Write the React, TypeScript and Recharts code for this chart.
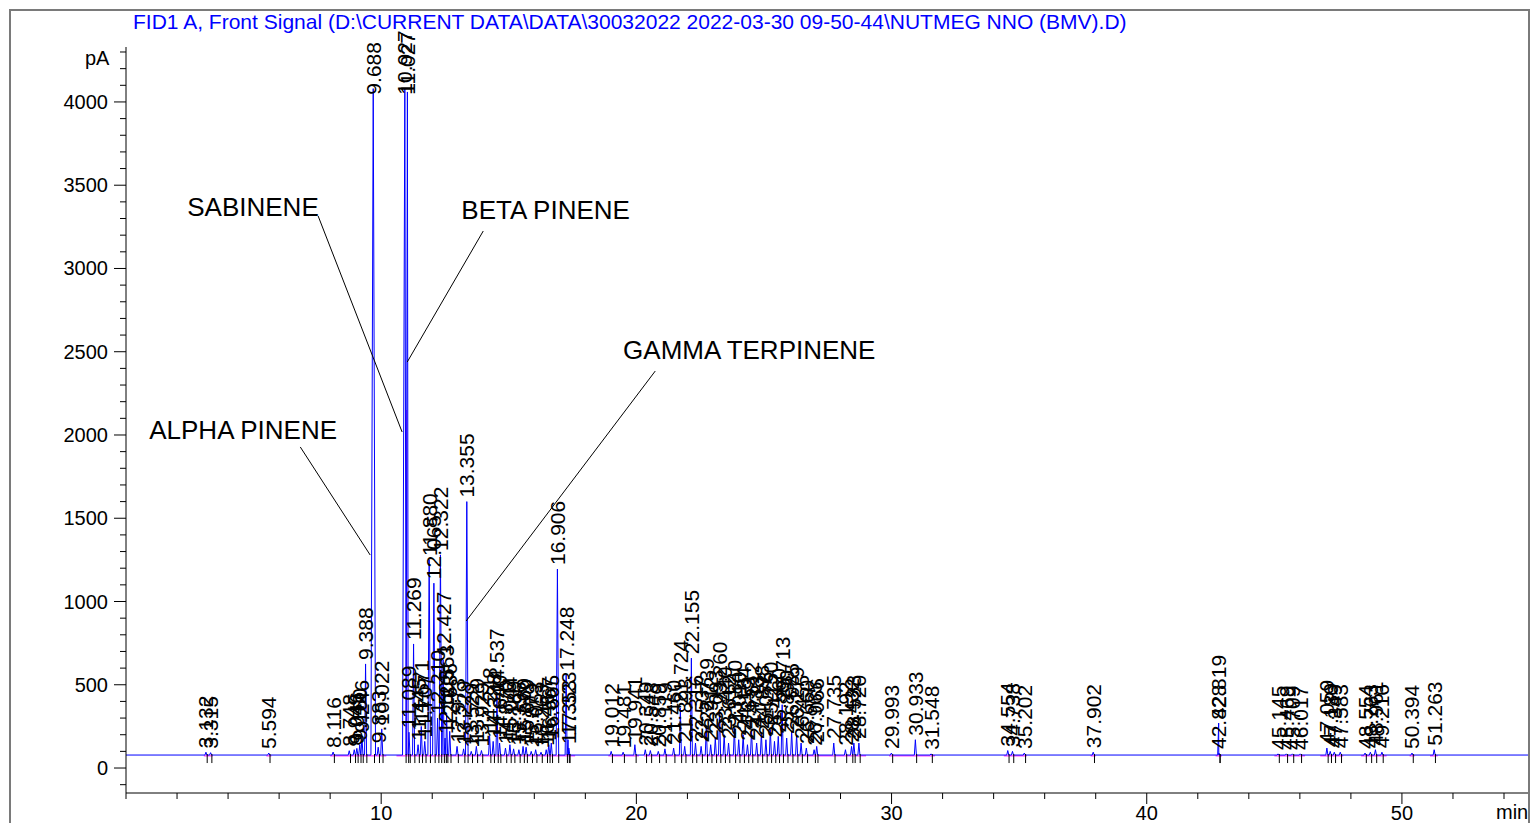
import React from "react";
import { ComposedChart, Line, Scatter, XAxis, YAxis, ReferenceLine } from "recharts";

const FONT = "'Liberation Sans', Arial, sans-serif";
const BASE = 78; // detector baseline, pA

// [retention time (min), apex height (pA)]
const EARLY_PEAKS: [number, number][] = [
  [3.132, 95], [3.315, 92], [5.594, 90], [8.116, 96], [8.748, 104], [8.945, 110],
  [9.046, 118], [9.16, 140], [9.246, 190], [9.388, 625], [9.688, 4080], [9.883, 125],
  [10.022, 235],
];

const MAIN_PEAKS: [number, number][] = [
  [10.927, 4080], [11.027, 4060], [11.089, 215], [11.269, 745], [11.445, 140],
  [11.571, 250], [11.707, 160], [11.88, 1250], [12.065, 1110], [12.21, 300],
  [12.322, 1280], [12.427, 650], [12.503, 180], [12.563, 330], [12.686, 220],
  [12.973, 130], [13.229, 115], [13.355, 1600],
];

const MID_PEAKS: [number, number][] = [
  [13.529, 100], [13.729, 130], [13.929, 105], [14.248, 195], [14.388, 160],
  [14.537, 430], [14.64, 150], [14.87, 120], [15.044, 140], [15.189, 115],
  [15.396, 110], [15.56, 130], [15.679, 125], [15.879, 100], [16.053, 110],
  [16.263, 95], [16.467, 110], [16.567, 140], [16.665, 150], [16.906, 1195],
  [17.248, 560], [17.323, 170], [17.353, 120],
];

const SESQUI_PEAKS: [number, number][] = [
  [19.012, 100], [19.481, 95], [19.941, 140], [20.349, 110], [20.548, 105],
  [20.859, 100], [21.119, 115], [21.46, 120], [21.724, 360], [21.893, 130],
  [22.155, 660], [22.316, 150], [22.537, 130], [22.739, 250], [22.912, 140],
  [23.093, 180], [23.26, 350], [23.44, 200], [23.612, 150], [23.84, 240],
  [24.01, 170], [24.184, 200], [24.353, 140], [24.512, 230], [24.713, 150],
  [24.898, 210], [25.076, 170], [25.25, 230], [25.412, 160], [25.56, 190],
  [25.713, 380], [25.89, 180], [26.085, 220], [26.279, 200], [26.455, 150],
  [26.66, 120], [26.965, 110], [27.066, 130], [27.735, 150], [28.192, 110],
  [28.432, 130], [28.523, 150], [28.72, 150],
];

const LATE_PEAKS: [number, number][] = [
  [29.993, 90], [30.933, 170], [31.548, 85], [34.554, 105], [34.738, 100],
  [35.202, 90], [37.902, 95], [42.819, 270], [42.828, 90], [45.145, 85],
  [45.469, 85], [45.709, 85], [46.017, 85], [47.059, 120], [47.189, 100],
  [47.349, 95], [47.583, 95], [48.554, 90], [48.763, 95], [48.961, 110],
  [49.216, 95], [50.394, 90], [51.263, 110],
];

// integration baseline segments (min)
const BASELINE_SEGMENTS: [number, number][] = [
  [3.05, 3.4], [5.5, 5.7], [8.0, 10.2], [10.6, 17.6], [18.9, 20.1], [20.3, 29.0],
  [29.9, 31.7], [34.4, 35.3], [37.8, 38.0], [42.7, 42.95], [45.0, 46.2],
  [46.8, 47.7], [48.4, 49.4], [50.3, 50.5], [51.1, 51.4],
];

const CALLOUTS = [
  { name: "SABINENE", text: [2.4, 3369], from: [7.53, 3315], to: [10.82, 2018] },
  { name: "BETA PINENE", text: [13.14, 3351], from: [14.0, 3225], to: [11.02, 2438] },
  { name: "ALPHA PINENE", text: [0.91, 2030], from: [6.83, 1928], to: [9.57, 1279] },
  { name: "GAMMA TERPINENE", text: [19.48, 2510], from: [20.74, 2384], to: [13.33, 883] },
];

const X_MAX = 54.94;
const X_MAJOR = [10, 20, 30, 40, 50];
const Y_MAJOR = [0, 500, 1000, 1500, 2000, 2500, 3000, 3500, 4000];
const X_TICKS = Array.from({ length: 28 }, (_, i) => i * 2);
const Y_TICKS = Array.from({ length: 45 }, (_, i) => -100 + i * 100);

const ALL_PEAKS = [...EARLY_PEAKS, ...MAIN_PEAKS, ...MID_PEAKS, ...SESQUI_PEAKS, ...LATE_PEAKS];

const halfWidth = (h: number) => (h > 3000 ? 0.09 : h > 1000 ? 0.05 : 0.04);

function buildTrace(peaks: [number, number][]) {
  const pts: { t: number; v: number }[] = [{ t: 0, v: BASE }];
  peaks.forEach(([t, h], i) => {
    const prev = peaks[i - 1];
    const next = peaks[i + 1];
    const hw = halfWidth(h);
    const left = prev ? Math.max(t - hw, (prev[0] + t) / 2) : t - hw;
    const right = next ? Math.min(t + hw, (t + next[0]) / 2) : t + hw;
    pts.push({ t: left, v: BASE }, { t, v: h }, { t: right, v: BASE });
  });
  pts.push({ t: X_MAX, v: BASE });
  return pts;
}

const YTick = (props: any) => {
  const { x, y, payload } = props;
  const v = payload.value;
  const major = v % 500 === 0;
  return (
    <g>
      <line x1={x - (major ? 12 : 6)} x2={x} y1={y} y2={y} stroke="#000" />
      {major && Y_MAJOR.includes(v) && (
        <text x={x - 18} y={y} textAnchor="end" dominantBaseline="central" fontSize={20} fontFamily={FONT} fill="#000">
          {v}
        </text>
      )}
    </g>
  );
};

const XTick = (props: any) => {
  const { x, y, payload } = props;
  const v = payload.value;
  const major = X_MAJOR.includes(v);
  return (
    <g>
      <line x1={x} x2={x} y1={y} y2={y + (major ? 11 : 6)} stroke="#000" />
      {major && (
        <text x={x} y={y + 20} textAnchor="middle" dominantBaseline="central" fontSize={20} fontFamily={FONT} fill="#000">
          {v}
        </text>
      )}
    </g>
  );
};

const PeakLabel = (props: any) => {
  const { cx, cy, payload } = props;
  const y = cy - 4;
  return (
    <text
      x={cx}
      y={y}
      transform={`rotate(-90 ${cx} ${y})`}
      textAnchor="start"
      dominantBaseline="central"
      fontSize={21}
      fontFamily={FONT}
      fill="#000"
    >
      {payload.label}
    </text>
  );
};

const BaseTick = (props: any) => {
  const { cx, cy } = props;
  return <line x1={cx} x2={cx} y1={cy - 1} y2={cy + 8} stroke="#000" />;
};

const CalloutText = (props: any) => {
  const { cx, cy, payload } = props;
  return (
    <text x={cx} y={cy} dominantBaseline="central" fontSize={26} fontFamily={FONT} fill="#000">
      {payload.name}
    </text>
  );
};

export default function App() {
  const trace = buildTrace(ALL_PEAKS);
  const labels = ALL_PEAKS.map(([t, h]) => ({ t, v: Math.min(h, 4020), label: t.toFixed(3) }));
  const ticks = ALL_PEAKS.map(([t]) => ({ t: t + 0.05, v: BASE }));
  const calloutText = CALLOUTS.map((c) => ({ t: c.text[0], v: c.text[1], name: c.name }));

  return (
    <div
      style={{
        position: "absolute",
        left: 0,
        top: 0,
        width: 1531,
        height: 823,
        background: "#fff",
        overflow: "hidden",
        fontFamily: FONT,
      }}
    >
      <div
        style={{
          position: "absolute",
          left: 9,
          top: 9,
          width: 1517,
          height: 860,
          border: "2px solid #7a7a7a",
        }}
      />
      <div
        style={{
          position: "absolute",
          left: 133,
          top: 10,
          fontSize: 21,
          lineHeight: "24px",
          color: "#0000ff",
          whiteSpace: "nowrap",
        }}
      >
        {"FID1 A, Front Signal (D:\\CURRENT DATA\\DATA\\30032022 2022-03-30 09-50-44\\NUTMEG NNO (BMV).D)"}
      </div>
      <div style={{ position: "absolute", left: 85, top: 46, fontSize: 20, lineHeight: "24px" }}>pA</div>
      <div style={{ position: "absolute", left: 1496, top: 800, fontSize: 20, lineHeight: "24px" }}>min</div>

      <ComposedChart
        width={1531}
        height={823}
        margin={{ top: 47, right: 3, left: 0, bottom: 0 }}
        style={{ position: "absolute", left: 0, top: 0 }}
      >
        <XAxis
          type="number"
          dataKey="t"
          domain={[0, X_MAX]}
          ticks={X_TICKS}
          interval={0}
          height={30}
          tickSize={0}
          tickMargin={0}
          tickLine={false}
          axisLine={{ stroke: "#000" }}
          tick={<XTick />}
        />
        <YAxis
          type="number"
          domain={[-150, 4330]}
          ticks={Y_TICKS}
          interval={0}
          width={126}
          tickSize={0}
          tickMargin={0}
          tickLine={false}
          axisLine={{ stroke: "#000" }}
          tick={<YTick />}
        />
        {BASELINE_SEGMENTS.map(([a, b], i) => (
          <ReferenceLine
            key={`bl${i}`}
            segment={[{ x: a, y: BASE - 5 }, { x: b, y: BASE - 5 }]}
            stroke="#ff00ff"
            strokeWidth={1}
          />
        ))}
        <ReferenceLine
          segment={[{ x: 11.0, y: BASE }, { x: 11.0, y: 2150 }]}
          stroke="#ff00ff"
          strokeWidth={1}
        />
        <Line
          data={trace}
          dataKey="v"
          type="linear"
          stroke="#0000ff"
          strokeWidth={1}
          dot={false}
          activeDot={false}
          isAnimationActive={false}
        />
        <Scatter data={ticks} dataKey="v" shape={<BaseTick />} isAnimationActive={false} />
        <Scatter data={labels} dataKey="v" shape={<PeakLabel />} isAnimationActive={false} />
        {CALLOUTS.map((c, i) => (
          <ReferenceLine
            key={`co${i}`}
            segment={[{ x: c.from[0], y: c.from[1] }, { x: c.to[0], y: c.to[1] }]}
            stroke="#000"
            strokeWidth={1}
          />
        ))}
        <Scatter data={calloutText} dataKey="v" shape={<CalloutText />} isAnimationActive={false} />
      </ComposedChart>
    </div>
  );
}
